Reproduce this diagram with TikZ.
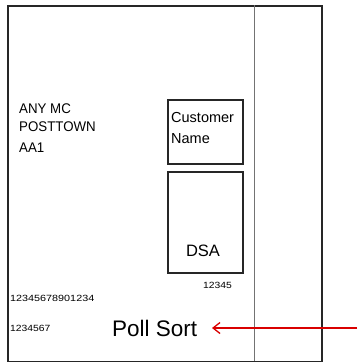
\documentclass[tikz,border=0pt]{standalone}
\usepackage{fontspec}
\setmainfont{Liberation Sans}
\usetikzlibrary{arrows.meta}
\begin{document}
\begin{tikzpicture}[x=1pt,y=-1pt,
  frame/.style={draw=black!85,line width=1.6pt},
  addr/.style={anchor=base west,inner sep=0pt,font=\fontsize{14}{14}\selectfont},
  code/.style={anchor=base west,inner sep=0pt,font=\fontsize{9}{9}\selectfont},
  lbl/.style={inner sep=0pt}]
\useasboundingbox[fill=white] (0,0) rectangle (357,362);
\node[frame,minimum width=314pt,minimum height=356pt,anchor=north west,inner sep=0pt] (env) at (7,5) {};
\coordinate (vt) at (254,5);
\coordinate (vb) at (254,361);
\draw[black!55,line width=1pt] (vt) -- (vb);
\node[frame,minimum width=75pt,minimum height=64pt,anchor=north west,inner sep=0pt] (cust) at (167,99) {};
\node[frame,minimum width=75pt,minimum height=101pt,anchor=north west,inner sep=0pt] (dsa) at (167,171) {};
\node[addr] (a1) at (19,113) {\scalebox{0.95}[1]{ANY MC}};
\node[addr] (a2) at (19,131) {\scalebox{0.95}[1]{POSTTOWN}};
\node[addr] (a3) at (19,152) {\scalebox{0.95}[1]{AA1}};
\node[addr,font=\fontsize{14.5}{14.5}\selectfont] (c1) at (171,122) {Customer};
\node[addr,font=\fontsize{14.5}{14.5}\selectfont] (c2) at (171,143) {Name};
\node[lbl,anchor=base,font=\fontsize{16.5}{16.5}\selectfont] (dsat) at (203,256) {DSA};
\node[code] (n1) at (203,288) {\scalebox{1.15}[1]{12345}};
\node[code] (n2) at (10,301) {\scalebox{1.2}[1]{12345678901234}};
\node[code] (n3) at (10,331) {\scalebox{1.15}[1]{1234567}};
\node[lbl,anchor=base west,font=\fontsize{22.5}{22.5}\selectfont] (poll) at (112,336) {Poll Sort};
\coordinate (ae) at (357,328);
\coordinate (tip) at (212,328);
\draw[red!85!black,line width=1.3pt,-{Straight Barb[length=7pt,width=11pt]}] (ae) -- (tip);
\end{tikzpicture}
\end{document}
